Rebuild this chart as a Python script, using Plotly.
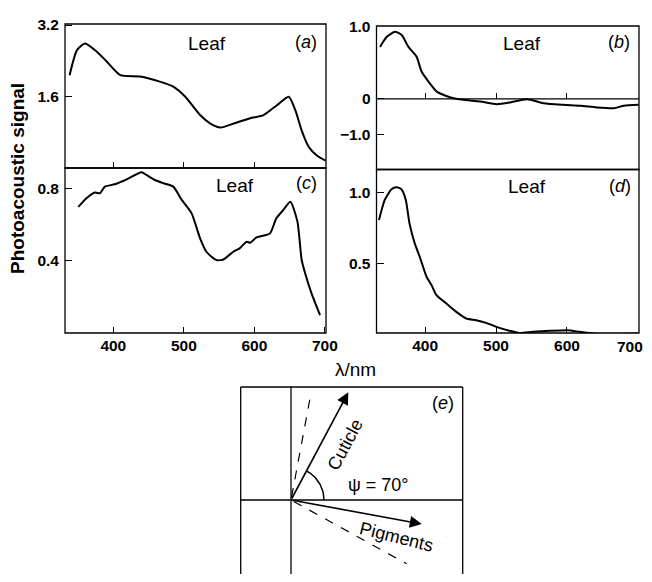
import numpy as np
import plotly.graph_objects as go

# The page body has an 8px margin; the figure is sized so the page does not scroll
OFF = 8
WIN_W, WIN_H = 652, 582
VISIBLE_RIGHT = 645
W, H = WIN_W - OFF, WIN_H - 2 * OFF

# ---------------- data ----------------
wl_a = [338, 348.5, 360, 377, 391, 410, 438, 467, 485.5, 502, 523, 537.6, 552, 570.6, 594, 613, 632, 648.7, 658, 667.6, 677, 689, 701]
sig_a = [2.08, 2.64, 2.79, 2.60, 2.38, 2.08, 2.05, 1.93, 1.82, 1.60, 1.19, 1.00, 0.91, 1.00, 1.12, 1.19, 1.41, 1.60, 1.30, 0.82, 0.48, 0.28, 0.17]

wl_b = [336.5, 346, 357.6, 367, 376.5, 388, 395, 404.7, 416.5, 428, 440, 454, 477.6, 501, 520, 543.5, 567, 595, 619, 642, 666, 680, 701]
sig_b = [0.72, 0.86, 0.93, 0.885, 0.72, 0.585, 0.378, 0.24, 0.10, 0.046, 0.009, -0.014, -0.037, -0.074, -0.05, -0.005, -0.06, -0.083, -0.097, -0.12, -0.13, -0.097, -0.083]

wl_c = [350.4, 362, 374, 381, 388, 402, 419, 440, 447, 459, 471, 485, 497, 511, 523, 532, 546, 556, 570, 579, 589, 594, 603, 622, 631, 641, 651, 661, 667, 672, 681, 693]
sig_c = [0.70, 0.748, 0.78, 0.776, 0.813, 0.826, 0.854, 0.893, 0.878, 0.85, 0.832, 0.813, 0.739, 0.664, 0.525, 0.45, 0.404, 0.407, 0.45, 0.469, 0.506, 0.50, 0.53, 0.552, 0.636, 0.683, 0.729, 0.618, 0.404, 0.329, 0.218, 0.097]

wl_d = [335, 343, 352.6, 359.6, 366.7, 372.8, 378, 385.4, 392.5, 402, 409, 416, 430, 444, 458, 472, 486, 500.5, 519, 533, 552, 575.6, 601, 618, 637, 660, 700]
sig_d = [0.807, 0.948, 1.024, 1.038, 1.024, 0.948, 0.783, 0.642, 0.547, 0.406, 0.347, 0.276, 0.217, 0.158, 0.111, 0.099, 0.08, 0.052, 0.024, 0.009, 0.017, 0.024, 0.028, 0.017, 0.005, 0.0, 0.005]

x_ticks = [400, 500, 600, 700]
x_ticktext = ["400", "500", "600", "700"]
ya_ticks = [1.6, 3.2]
yc_ticks = [0.4, 0.8]
yb_ticks = [1.0, 0.0, -0.5]
yb_ticktext = ["1.0", "0", "\u22121.0"]
yd_ticks = [0.5, 1.0]
panel_letters = ["a", "b", "c", "d", "e"]
panel_titles = ["Leaf", "Leaf", "Leaf", "Leaf"]

# polar diagram (e)
vec_names = ["Cuticle", "Pigments"]
vec_angles = [62.0, -10.4]
vec_lengths = [122.0, 133.0]
dash_angles = [79.4, -28.9]
dash_lengths = [109.0, 132.0]
psi_label = "\u03c8 = 70\u00b0"
arc_radius = 33.0

# ---------------- layout helpers (window pixels -> paper) ----------------
def pxx(x):
    return (x - OFF) / W

def pxy(y):
    return 1 - (y - OFF) / H

FONT = "Liberation Sans, Arial, sans-serif"
TICKFONT = dict(family=FONT, size=15.5, color="black", weight="bold")

fig = go.Figure()
line_style = dict(color="black", width=2)
for xs, ys, xa, ya in [(wl_a, sig_a, "x", "y"), (wl_b, sig_b, "x2", "y2"),
                       (wl_c, sig_c, "x3", "y3"), (wl_d, sig_d, "x4", "y4")]:
    fig.add_trace(go.Scatter(x=xs, y=ys, mode="lines",
                             line=dict(shape="spline", smoothing=0.6, **line_style),
                             xaxis=xa, yaxis=ya))

xr = [331.5, 701.5]
dom_left = [pxx(65), pxx(326)]
dom_right = [pxx(376.5), pxx(639)]
ya_dom = [pxy(168), pxy(24)]
yc_dom = [pxy(333), pxy(168)]
yb_dom = [pxy(169.5), pxy(26)]
yd_dom = [pxy(333), pxy(169.5)]
ya_rng = [0.008, 3.223]
yc_rng = [-0.003, 0.917]
yb_rng = [-0.98, 1.01]
yd_rng = [0.0085, 1.164]

common_x = dict(range=xr, ticks="inside", ticklen=6, tickwidth=1.4, tickcolor="black",
                showgrid=False, zeroline=False, automargin=False, ticklabeloverflow="allow",
                showline=False, tickfont=TICKFONT, fixedrange=True)
common_y = dict(ticks="inside", ticklen=7, tickwidth=1.4, tickcolor="black", showgrid=False,
                zeroline=False, showline=False, tickfont=TICKFONT, ticklabelstandoff=5,
                automargin=False, fixedrange=True)

zero_pos_b = yb_dom[0] + (0 - yb_rng[0]) / (yb_rng[1] - yb_rng[0]) * (yb_dom[1] - yb_dom[0])

e_top = 387
e_bottom = OFF + H
fig.update_layout(
    width=W, height=H, margin=dict(l=0, r=0, t=0, b=0, autoexpand=False),
    paper_bgcolor="white", plot_bgcolor="white", showlegend=False,
    xaxis=dict(domain=dom_left, anchor="y", showticklabels=False, tickvals=x_ticks[:3], **common_x),
    yaxis=dict(domain=ya_dom, anchor="x", range=ya_rng, tickvals=ya_ticks, tickformat=".1f", **common_y),
    xaxis2=dict(domain=dom_right, anchor="free", position=zero_pos_b, showticklabels=False, tickvals=x_ticks[:3], **common_x),
    yaxis2=dict(domain=yb_dom, anchor="x2", range=yb_rng, tickvals=yb_ticks, ticktext=yb_ticktext, **common_y),
    xaxis3=dict(domain=dom_left, anchor="y3", ticklabelstandoff=1, tickvals=x_ticks, ticktext=x_ticktext, **common_x),
    yaxis3=dict(domain=yc_dom, anchor="x3", range=yc_rng, tickvals=yc_ticks, tickformat=".1f", **common_y),
    # last label of (d) sits at the right window edge; it is placed as an annotation so it stays visible
    xaxis4=dict(domain=dom_right, anchor="y4", ticklabelstandoff=1, tickvals=x_ticks[:3], ticktext=x_ticktext[:3], **common_x),
    yaxis4=dict(domain=yd_dom, anchor="x4", range=yd_rng, tickvals=yd_ticks, tickformat=".1f", **common_y),
    xaxis5=dict(domain=[pxx(240.7), pxx(462.7)], anchor="y5", range=[0, 222], visible=False, fixedrange=True),
    yaxis5=dict(domain=[0, pxy(e_top)], anchor="x5", range=[WIN_H - e_bottom, WIN_H - e_top], visible=False, fixedrange=True),
)

shapes = []
frame = dict(color="black", width=1.3)
for xr_, yr_ in [("x", "y"), ("x2", "y2"), ("x3", "y3"), ("x4", "y4")]:
    shapes.append(dict(type="rect", xref=f"{xr_} domain", yref=f"{yr_} domain", x0=0, x1=1, y0=0, y1=1, line=frame, layer="above"))
# zero line in (b)
shapes.append(dict(type="line", xref="x2 domain", yref="y2", x0=0, x1=1, y0=0, y1=0, line=frame))

# ---- panel (e) ----
ox, oy = 50.3, 82.0
shapes.append(dict(type="line", xref="x5 domain", yref="y5 domain", x0=0, x1=0, y0=0, y1=1, line=frame))
shapes.append(dict(type="line", xref="x5 domain", yref="y5 domain", x0=0, x1=1, y0=1, y1=1, line=frame))
shapes.append(dict(type="line", xref="x5 domain", yref="y5 domain", x0=1, x1=1, y0=0, y1=1, line=frame))
shapes.append(dict(type="line", xref="x5 domain", yref="y5", x0=0, x1=1, y0=oy, y1=oy, line=frame))
shapes.append(dict(type="line", xref="x5", yref="y5 domain", x0=ox, x1=ox, y0=0, y1=1, line=frame))
for ang, ln in zip(dash_angles, dash_lengths):
    t = np.radians(ang)
    shapes.append(dict(type="line", xref="x5", yref="y5", x0=ox + 3 * np.cos(t), y0=oy + 3 * np.sin(t),
                       x1=ox + ln * np.cos(t), y1=oy + ln * np.sin(t),
                       line=dict(color="black", width=1.2, dash="dash")))
fig.update_layout(shapes=shapes)

th = np.radians(np.linspace(0, vec_angles[0], 40))
fig.add_trace(go.Scatter(x=ox + arc_radius * np.cos(th), y=oy + arc_radius * np.sin(th), mode="lines",
                         line=dict(color="black", width=1.5), xaxis="x5", yaxis="y5"))

annots = []
for name, ang, ln in zip(vec_names, vec_angles, vec_lengths):
    t = np.radians(ang)
    annots.append(dict(x=ox + ln * np.cos(t), y=oy + ln * np.sin(t), ax=ox, ay=oy, xref="x5", yref="y5",
                       axref="x5", ayref="y5", text="", showarrow=True, arrowhead=2, arrowsize=1.5,
                       arrowwidth=1.6, arrowcolor="black", standoff=0))
textfont = dict(family=FONT, size=18, color="black")
leaffont = dict(family=FONT, size=19, color="black")
ctr = dict(showarrow=False, xanchor="center", yanchor="middle")
annots.append(dict(x=104.3, y=137, xref="x5", yref="y5", text=vec_names[0], textangle=-62, font=textfont, **ctr))
annots.append(dict(x=156, y=45.3, xref="x5", yref="y5", text=vec_names[1], textangle=14, font=textfont, **ctr))
annots.append(dict(x=137.3, y=97, xref="x5", yref="y5", text=psi_label, font=textfont, **ctr))

letter_pos = [(306, 41.7), (619, 41.7), (306, 183.3), (620, 186), (443, 403)]
for L, (lx, ly) in zip(panel_letters, letter_pos):
    annots.append(dict(x=pxx(lx), y=pxy(ly), xref="paper", yref="paper", text=f"(<i>{L}</i>)", font=textfont, **ctr))
title_pos = [(207, 43), (521.7, 43), (235, 185), (526.7, 186.7)]
for T, (tx, ty) in zip(panel_titles, title_pos):
    annots.append(dict(x=pxx(tx), y=pxy(ty), xref="paper", yref="paper", text=T, font=leaffont, **ctr))

# last tick label of (d), right-aligned inside the visible area
annots.append(dict(x=pxx(VISIBLE_RIGHT), y=pxy(346.5), xref="paper", yref="paper", text=x_ticktext[-1],
                   showarrow=False, xanchor="right", yanchor="middle", font=TICKFONT))

annots.append(dict(x=pxx(18), y=pxy(179), xref="paper", yref="paper", text="Photoacoustic signal", textangle=-90,
                   font=dict(family=FONT, size=19, color="black", weight="bold"), **ctr))
annots.append(dict(x=pxx(355.7), y=pxy(369), xref="paper", yref="paper", text="\u03bb/nm",
                   font=dict(family=FONT, size=19, color="black"), **ctr))
fig.update_layout(annotations=annots)

fig.write_html("out.html")
